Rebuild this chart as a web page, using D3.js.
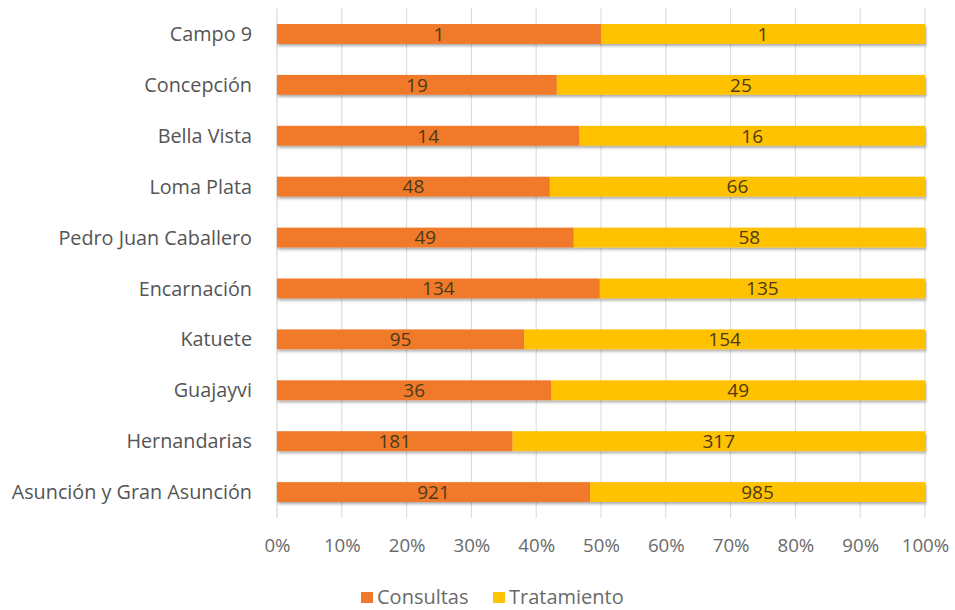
<!DOCTYPE html>
<html><head><meta charset="utf-8">
<script src="https://cdn.jsdelivr.net/npm/d3@7"></script>
<style>body{margin:0;background:#fff}svg{display:block}</style>
</head><body>
<svg id="c" width="955" height="610"></svg>
<script>
const categories = ["Campo 9","Concepción","Bella Vista","Loma Plata","Pedro Juan Caballero","Encarnación","Katuete","Guajayvi","Hernandarias","Asunción y Gran Asunción"];
const consultas = [1,19,14,48,49,134,95,36,181,921];
const tratamiento = [1,25,16,66,58,135,154,49,317,985];
const seriesNames = ["Consultas","Tratamiento"];
const colors = ["#F07A2C","#FFC205"];
const ticks = [0,0.1,0.2,0.3,0.4,0.5,0.6,0.7,0.8,0.9,1];

const svg = d3.select("#c");
const font = "'Open Sans', sans-serif";
const x = d3.scaleLinear().domain([0,1]).range([277,925]);
const y = d3.scaleBand().domain(categories).range([8.5,517.5]).paddingInner(0.61).paddingOuter(0.305);

const defs = svg.append("defs");
const f = defs.append("filter").attr("id","sh").attr("x","-5%").attr("y","-50%").attr("width","110%").attr("height","200%");
f.append("feDropShadow").attr("dx",1).attr("dy",2).attr("stdDeviation",1.5).attr("flood-color","#000").attr("flood-opacity",0.35);

// grid
svg.append("g").selectAll("line").data(ticks.slice(1)).join("line")
  .attr("x1",d=>x(d)).attr("x2",d=>x(d)).attr("y1",8).attr("y2",518)
  .attr("stroke","#d9d9d9").attr("stroke-width",1);
svg.append("line").attr("x1",x(0)).attr("x2",x(0)).attr("y1",8).attr("y2",518).attr("stroke","#cfcfcf");

const data = categories.map((c,i)=>({c, a:consultas[i], b:tratamiento[i], t:consultas[i]+tratamiento[i]}));
const g = svg.append("g");
data.forEach(d=>{
  const p = d.a/d.t;
  const gg = g.append("g").attr("filter","url(#sh)");
  gg.append("rect").attr("x",x(0)).attr("y",y(d.c)).attr("width",x(p)-x(0)).attr("height",y.bandwidth()).attr("fill",colors[0]);
  gg.append("rect").attr("x",x(p)).attr("y",y(d.c)).attr("width",x(1)-x(p)).attr("height",y.bandwidth()).attr("fill",colors[1]);
  g.append("text").attr("x",(x(0)+x(p))/2).attr("y",y(d.c)+y.bandwidth()/2).attr("dy","0.36em")
    .attr("text-anchor","middle").attr("font-family",font).attr("font-size",19).attr("fill","#4d3a18").text(d.a);
  g.append("text").attr("x",(x(p)+x(1))/2).attr("y",y(d.c)+y.bandwidth()/2).attr("dy","0.36em")
    .attr("text-anchor","middle").attr("font-family",font).attr("font-size",19).attr("fill","#4d3a18").text(d.b);
});

// category labels
svg.append("g").selectAll("text").data(categories).join("text")
  .attr("x",252).attr("y",d=>y(d)+y.bandwidth()/2).attr("dy","0.36em").attr("text-anchor","end")
  .attr("font-family",font).attr("font-size",19.8).attr("fill","#555").text(d=>d);

// x ticks
const xa = svg.append("g").attr("transform","translate(0,518)")
  .call(d3.axisBottom(x).tickValues(ticks).tickFormat(d3.format(".0%")).tickSize(0).tickPadding(21));
xa.select(".domain").remove();
xa.selectAll("text").attr("font-family",font).attr("font-size",18.7).attr("fill","#6a6a6a");

// legend
const lg = svg.append("g");
const items = [{n:seriesNames[0],c:colors[0],x:361},{n:seriesNames[1],c:colors[1],x:493}];
items.forEach(it=>{
  lg.append("rect").attr("x",it.x).attr("y",592).attr("width",12).attr("height",11).attr("fill",it.c);
  lg.append("text").attr("x",it.x+16).attr("y",597).attr("dy","0.36em").attr("font-family",font).attr("font-size",20).attr("fill","#6a6a6a").text(it.n);
});
</script>
</body></html>
